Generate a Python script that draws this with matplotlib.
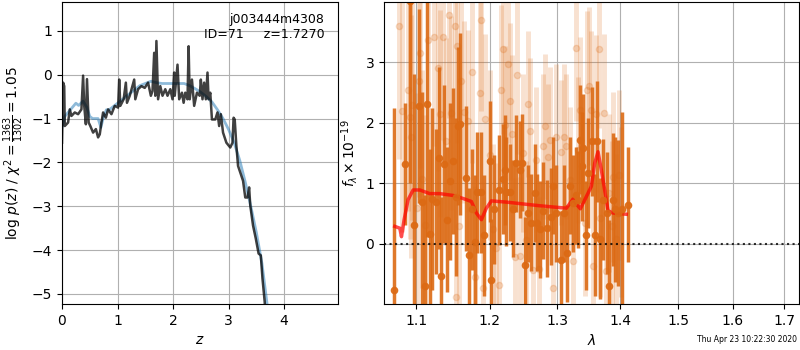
import matplotlib
matplotlib.use('Agg')
import matplotlib.pyplot as plt
from matplotlib.ticker import FixedLocator, NullLocator, FormatStrFormatter

# ---- p(z) panel data
z_pz = [0.00, 0.02, 0.04, 0.05, 0.11, 0.14, 0.17, 0.23, 0.29, 0.35, 0.38, 0.40, 0.43,
        0.45, 0.48, 0.51, 0.56, 0.61, 0.65, 0.68, 0.71, 0.74, 0.79, 0.83, 0.89, 0.95,
        1.01, 1.03, 1.05, 1.11, 1.15, 1.17, 1.22, 1.30, 1.32, 1.37, 1.43, 1.49, 1.55,
        1.60, 1.63, 1.66, 1.68, 1.70, 1.73, 1.77, 1.81, 1.86, 1.90, 1.95, 1.99, 2.02,
        2.03, 2.08, 2.11, 2.16, 2.19, 2.22, 2.26, 2.28, 2.30, 2.34, 2.38, 2.43, 2.48,
        2.50, 2.53, 2.56, 2.59, 2.62, 2.64, 2.67, 2.70, 2.76, 2.80, 2.83, 2.86, 2.90,
        2.96, 3.03, 3.07, 3.09, 3.11, 3.14, 3.17, 3.21, 3.26, 3.30, 3.34, 3.37, 3.39,
        3.44, 3.49, 3.54, 3.58, 3.61, 3.65, 3.68]
logpz = [-1.55, -0.18, -0.26, -1.17, -1.09, -0.79, -0.94, -0.86, -0.90, -0.79, -0.02,
         -0.71, -1.13, -0.10, -1.09, -1.17, -1.32, -1.24, -1.43, -1.36, -1.09, -0.86,
         -0.98, -0.79, -0.90, -0.71, -0.75, -0.11, -0.71, -0.56, -0.18, -0.64, -0.48,
         -0.11, -0.56, -0.33, -0.26, -0.30, -0.18, -0.48, -0.37, 0.50, -0.48, 0.77,
         -0.56, -0.26, -0.48, -0.33, -0.48, -0.33, -0.56, 0.05, -0.48, 0.23, -0.56,
         -0.41, -0.64, -0.41, -0.56, 0.65, -0.56, -0.11, -0.71, -0.41, -0.48, -0.11,
         -0.56, -0.18, -0.56, 0.05, -0.56, -0.41, -1.02, -1.02, -0.86, -1.17, -0.90,
         -1.32, -1.55, -1.66, -1.55, -0.98, -1.02, -1.62, -2.08, -2.23, -2.42, -2.80,
         -2.80, -2.57, -2.98, -3.44, -3.74, -4.08, -4.12, -4.65, -5.18, -6.0]

z_chi = [0.00, 0.05, 0.15, 0.25, 0.30, 0.38, 0.45, 0.50, 0.55, 0.65, 0.70, 0.75, 0.80,
         0.85, 0.90, 1.00, 1.10, 1.20, 1.30, 1.40, 1.50, 1.60, 1.70, 1.80, 1.90, 2.00,
         2.10, 2.20, 2.30, 2.40, 2.50, 2.60, 2.70, 2.80, 2.90, 3.00, 3.10, 3.20, 3.30,
         3.40, 3.50, 3.60, 3.70]
chi_curve = [-1.20, -0.95, -0.80, -0.65, -0.70, -0.60, -0.75, -0.95, -1.00, -1.00,
             -1.20, -0.95, -0.80, -0.80, -0.75, -0.65, -0.55, -0.45, -0.35, -0.25,
             -0.20, -0.15, -0.18, -0.20, -0.20, -0.20, -0.20, -0.20, -0.25, -0.32,
             -0.40, -0.50, -0.62, -0.80, -1.00, -1.25, -1.55, -1.95, -2.45, -3.00,
             -3.60, -4.30, -5.30]

# ---- spectrum panel data (microns, flux x 1e-19)
wave_a = [1.0714, 1.0854, 1.0926, 1.0970, 1.1039, 1.1074, 1.1113, 1.1148, 1.1179, 1.1214,
          1.1267, 1.1298, 1.1330, 1.1366, 1.1411, 1.1447, 1.1492, 1.1528, 1.1564, 1.1592,
          1.1665, 1.1711, 1.1748, 1.1790, 1.1827, 1.1883, 1.1916, 1.2001, 1.2024, 1.2058,
          1.2129, 1.2191, 1.2225, 1.2240, 1.2288, 1.2336, 1.2385, 1.2434, 1.2473, 1.2518,
          1.2557, 1.2607, 1.2657, 1.2692, 1.2732, 1.2782, 1.2843, 1.2898, 1.2934, 1.2985,
          1.3051, 1.3098, 1.3150, 1.3191, 1.3243, 1.3285, 1.3327, 1.3348, 1.3379, 1.3400,
          1.3442, 1.3479, 1.3543, 1.3586, 1.3629, 1.3677, 1.3720, 1.3791, 1.3818, 1.3883,
          1.3911, 1.3966, 1.4038, 1.4132]
flux_a = [-0.76, 1.32, 4.00, 0.31, 2.28, 0.70, -0.69, 2.31, 0.16, 0.74,
          0.70, 1.41, -0.53, 1.32, 0.40, 1.03, 1.37, 0.78, 1.95, 1.98,
          1.08, -0.18, 0.57, 0.04, 0.85, 0.85, 0.14, 1.36, -0.59, 0.57,
          0.89, 1.07, 1.22, 0.86, 0.85, 0.58, 1.33, 1.22, 1.34, -0.35,
          0.51, 0.35, 0.84, 0.35, 0.24, 0.55, 0.26, 0.45, 0.96, 0.51,
          -0.26, 0.51, -0.15, 0.96, 0.67, 0.80, 0.73, 1.72, 1.28, 1.58,
          0.14, 1.17, 1.69, 0.15, 1.69, 0.09, 0.73, 0.51, -0.70, 0.73,
          0.57, 0.51, 0.57, 0.65]
err_a = [3.0, 1.0, 3.0, 2.5, 1.6, 1.8, 1.5, 2.2, 1.4, 1.5,
         1.2, 1.5, 1.3, 1.3, 1.2, 1.3, 1.2, 1.3, 1.3, 1.5,
         1.2, 1.1, 1.0, 1.1, 1.0, 1.0, 1.0, 1.0, 1.0, 0.9,
         0.9, 0.9, 0.9, 0.9, 0.8, 0.8, 0.8, 0.8, 0.8, 0.8,
         0.8, 0.8, 0.8, 0.8, 0.8, 0.8, 0.8, 0.8, 0.8, 0.8,
         0.8, 0.8, 0.8, 0.8, 0.8, 0.8, 0.8, 0.9, 0.9, 0.9,
         0.9, 0.9, 0.9, 1.0, 1.0, 1.0, 1.0, 1.0, 1.1, 1.1,
         1.2, 1.2, 1.6, 0.95]

wave_b = [1.0781, 1.0819, 1.0896, 1.0918, 1.0931, 1.0952, 1.1013, 1.1039, 1.1048, 1.1078,
          1.1122, 1.1162, 1.1237, 1.1290, 1.1312, 1.1357, 1.1402, 1.1438, 1.1469, 1.1514,
          1.1537, 1.1551, 1.1573, 1.1605, 1.1637, 1.1697, 1.1753, 1.1790, 1.1860, 1.1883,
          1.1907, 1.1939, 1.2001, 1.2048, 1.2086, 1.2134, 1.2158, 1.2191, 1.2225, 1.2264,
          1.2288, 1.2322, 1.2361, 1.2395, 1.2434, 1.2483, 1.2522, 1.2557, 1.2591, 1.2631,
          1.2681, 1.2721, 1.2782, 1.2817, 1.2857, 1.2893, 1.2934, 1.2985, 1.3062, 1.3098,
          1.3139, 1.3191, 1.3243, 1.3285, 1.3322, 1.3358, 1.3427, 1.3464, 1.3496, 1.3533,
          1.3560, 1.3613, 1.3656, 1.3677, 1.3731, 1.3764, 1.3818, 1.3872, 1.3883, 1.3939,
          1.3983, 1.4021]
flux_b = [3.60, 2.20, 2.54, 2.09, 1.77, 2.29, 0.59, 2.68, 3.15, 1.07,
          0.32, 3.37, 3.42, 2.90, 2.15, 3.42, 1.69, 3.78, 2.16, 3.59,
          -0.87, 3.27, 0.29, 2.68, 2.18, 2.03, 2.83, -0.54, 2.49, 3.70,
          -0.73, 2.06, 1.47, 0.24, -0.07, -0.68, 2.54, 3.21, 1.96, 2.97,
          2.35, 1.81, -0.21, 2.79, -0.20, 1.50, 0.07, 2.31, 1.87, -0.43,
          1.39, -0.42, 1.61, 1.94, 1.44, 1.72, -0.73, 1.77, 1.51, 1.76,
          1.61, 1.06, -0.28, 3.23, 1.55, 2.21, 0.34, 2.54, 2.61, 2.21,
          -0.37, 2.15, 3.21, 0.42, 2.16, -0.44, 0.84, 0.29, 1.11, 0.09,
          1.14, 0.53]
err_b = [2.2, 2.0, 2.0, 2.0, 2.0, 1.9, 1.9, 1.9, 1.9, 1.8,
         1.8, 1.8, 1.8, 1.7, 1.7, 1.7, 1.7, 1.7, 1.6, 1.6,
         1.6, 1.6, 1.6, 1.6, 1.5, 1.5, 1.5, 1.5, 1.5, 1.5,
         1.5, 1.4, 1.4, 1.4, 1.4, 1.4, 1.4, 1.4, 1.3, 1.3,
         1.3, 1.3, 1.3, 1.3, 1.3, 1.3, 1.3, 1.2, 1.2, 1.2,
         1.2, 1.2, 1.2, 1.2, 1.2, 1.2, 1.2, 1.2, 1.2, 1.2,
         1.2, 1.2, 1.2, 1.2, 1.2, 1.2, 1.2, 1.3, 1.3, 1.3,
         1.3, 1.3, 1.3, 1.3, 1.3, 1.3, 1.3, 1.4, 1.4, 1.4,
         1.4, 1.4]

wave_model = [1.0726, 1.0790, 1.0811, 1.0845, 1.0896, 1.0961, 1.1048, 1.1179, 1.1312, 1.1492,
              1.1628, 1.1743, 1.1813, 1.1883, 1.1953, 1.2024, 1.2240, 1.2483, 1.2732, 1.2934,
              1.3139, 1.3243, 1.3295, 1.3358, 1.3453, 1.3533, 1.3586, 1.3640, 1.3694, 1.3748,
              1.3802, 1.3883, 1.3994, 1.4104]
flux_model = [0.29, 0.26, 0.12, 0.40, 0.73, 0.89, 0.89, 0.83, 0.83, 0.80,
              0.75, 0.70, 0.51, 0.40, 0.59, 0.71, 0.69, 0.66, 0.63, 0.61,
              0.59, 0.74, 0.66, 0.58, 0.78, 0.95, 1.33, 1.52, 1.22, 0.89,
              0.55, 0.51, 0.50, 0.49]

wave_ticks = [1.1, 1.2, 1.3, 1.4, 1.5, 1.6, 1.7]
orange = '#dc6a14'

fig = plt.figure(figsize=(8, 3.5), dpi=100)

ax = fig.add_axes([0.0775, 0.1314, 0.345, 0.863])
ax.plot(z_chi, chi_curve, color='C0', alpha=0.5, lw=2)
ax.plot(z_pz, logpz, color='k', alpha=0.75, lw=1.8)
ax.set_xlim(0, 4.97)
ax.set_ylim(-5.23, 1.66)
ax.set_xticks([0, 1, 2, 3, 4])
ax.set_yticks([-5, -4, -3, -2, -1, 0, 1])
ax.grid()
ax.set_xlabel('$z$')
ax.set_ylabel(r'log $p(z)$ / $\chi^2=\frac{1363}{1302}=1.05$')
ax.text(0.95, 0.965, 'j003444m4308\nID=71     z=1.7270', transform=ax.transAxes,
        ha='right', va='top', fontsize=9)

ax2 = fig.add_axes([0.48, 0.1314, 0.51875, 0.863])
ax2.errorbar(wave_b, flux_b, yerr=err_b, color=orange, alpha=0.2, marker='o',
             ms=4.5, linestyle='None', elinewidth=3.5)
ax2.errorbar(wave_a, flux_a, yerr=err_a, color=orange, alpha=0.9, marker='o',
             ms=4.5, linestyle='None', elinewidth=2.5)
ax2.plot(wave_model, flux_model, color='r', alpha=0.7, lw=2.5)
ax2.axhline(0, color='k', linestyle=':', lw=1.5, alpha=0.8)
ax2.set_xscale('log')
ax2.set_xlim(1.059, 1.730)
ax2.set_ylim(-0.99, 3.99)
ax2.xaxis.set_major_locator(FixedLocator(wave_ticks))
ax2.xaxis.set_minor_locator(NullLocator())
ax2.xaxis.set_major_formatter(FormatStrFormatter('%.1f'))
ax2.set_yticks([0, 1, 2, 3])
ax2.grid()
ax2.set_xlabel(r'$\lambda$')
ax2.set_ylabel(r'$f_\lambda\times10^{-19}$')

fig.text(0.996, 0.03, 'Thu Apr 23 10:22:30 2020', ha='right', va='center', fontsize=5.5)

fig.savefig('out.png', dpi=100)
